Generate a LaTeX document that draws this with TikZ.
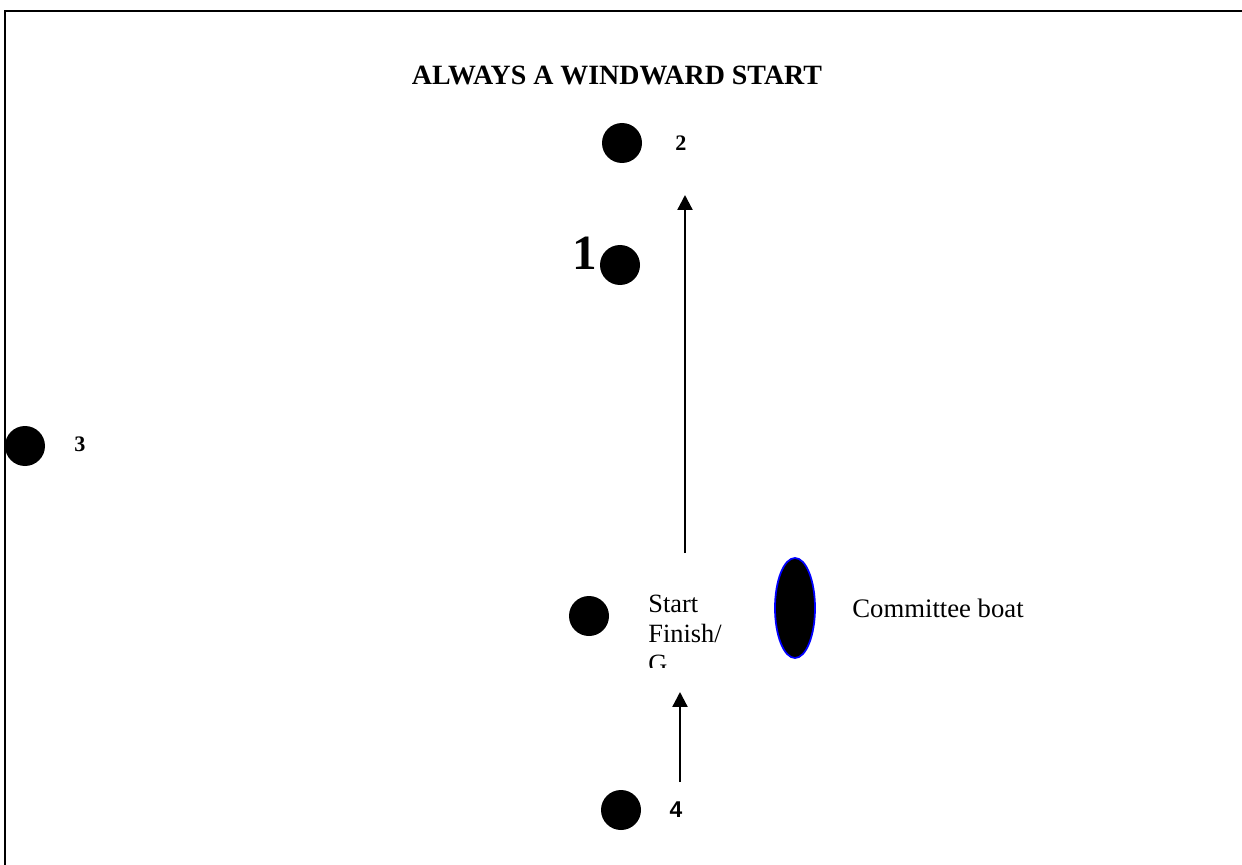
\documentclass[tikz,border=0pt]{standalone}
\usepackage{fontspec}
\setmainfont{Liberation Serif}
\newfontfamily\arialfont{Liberation Sans}
\usetikzlibrary{arrows.meta,shapes.geometric}

\begin{document}
\begin{tikzpicture}[x=0.02cm, y=-0.02cm]
        \tikzstyle{buoy}=[circle, fill=black, inner sep=0pt, minimum size=40*0.02cm]
        \tikzstyle{tag}=[inner sep=0pt, font=\fontsize{12.6}{14}\selectfont\bfseries]
        \tikzstyle{leg}=[draw=black, line width=1.3pt, -{Triangle[length=8.5pt, width=8.5pt]}]
        \useasboundingbox (0,0) rectangle (1242,865);

        % Frame
        \draw[line width=1.4pt] (5,865) -- (5,11) -- (1242,11);

        % Nodes
        \node[font=\fontsize{15.9}{18}\selectfont\bfseries] (title) at (617,75) {ALWAYS A WINDWARD START};

        \node[buoy] (m2) at (622,143) {};
        \node[tag] (t2) at (681,143) {2};

        \node[buoy] (m1) at (620,265) {};
        \node[inner sep=0pt, font=\fontsize{28}{30}\selectfont\bfseries] (t1) at (585,253) {1};

        \node[buoy] (m3) at (25,446) {};
        \node[tag] (t3) at (80,444) {3};

        \node[buoy] (start) at (589,616) {};
        \begin{scope}
            \clip (600,560) rectangle (760,667);
            \node[inner sep=0pt, anchor=north west, align=left, font=\fontsize{15}{17}\selectfont] (line) at (648,595) {Start\\Finish/\\G};
        \end{scope}

        \node[ellipse, fill=black, draw=blue, line width=1pt, inner sep=0pt,
              minimum width=40*0.02cm, minimum height=100*0.02cm] (boat) at (795,608) {};
        \node[anchor=west, inner sep=0pt, font=\fontsize{15.2}{17}\selectfont] (boattext) at (852,608) {Committee boat};

        \node[buoy] (m4) at (621,810) {};
        \node[tag, font=\arialfont\fontsize{13}{15}\selectfont\bfseries] (t4) at (676,810) {4};

        \coordinate (up1) at (685,553);
        \coordinate (up2) at (685,195);
        \coordinate (lo1) at (680,782);
        \coordinate (lo2) at (680,692);

        % Edges
        \draw[leg] (up1) to (up2);
        \draw[leg] (lo1) to (lo2);

\end{tikzpicture}
\end{document}
